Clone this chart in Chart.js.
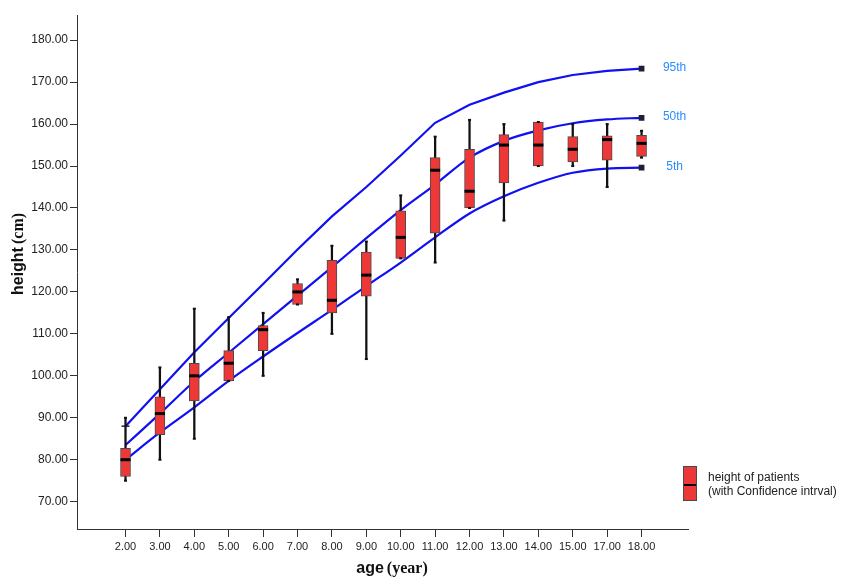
<!DOCTYPE html>
<html>
<head>
<meta charset="utf-8">
<script src="https://cdn.jsdelivr.net/npm/chart.js@4"></script>
<style>
  html, body { margin: 0; padding: 0; background: #fff; }
  #wrap { position: relative; width: 844px; height: 579px; }
</style>
</head>
<body>
<div id="wrap"><canvas id="chart"></canvas></div>
<script>
  const ages = ['2.00', '3.00', '4.00', '5.00', '6.00', '7.00', '8.00', '9.00', '10.00',
    '11.00', '12.00', '13.00', '14.00', '15.00', '17.00', '18.00'];

  // box plot of patients' height per age
  const whiskerLow  = [75, 80, 85, 98.8, 100, 117, 110, 104, 128, 127, 140, 137, 150, 150, 145, 152];
  const q1          = [76, 86, 94, 98.8, 106, 117, 115, 119, 128, 134, 140, 146, 150, 151, 151.4, 152.3];
  const median      = [80, 91, 100, 103, 111, 120, 118, 124, 133, 149, 144, 155, 155, 154, 156.3, 155.4];
  const q3          = [82.7, 95, 103, 106, 112, 122, 127.5, 129.5, 139.3, 152, 154, 157.5, 160.5, 157, 157.2, 157.3];
  const whiskerHigh = [90, 102, 116, 114, 115, 123, 131, 132, 143, 157, 161, 160, 160.5, 160, 160, 158.4];

  // reference percentile curves
  const p95 = [88, 96.8, 105.6, 113.8, 121.9, 130.1, 138, 145, 152.5, 160.3, 164.6, 167.5, 170, 171.7, 172.7, 173.2];
  const p50 = [83.5, 91, 98.7, 105.5, 112.3, 119.1, 125.9, 132.8, 139.5, 145.6, 152, 156, 158.5, 160.2, 161.1, 161.5];
  const p5  = [80, 86.5, 92.5, 98.8, 104.6, 110.2, 115.7, 121.4, 127, 133, 138.7, 142.8, 146, 148.4, 149.4, 149.6];

  const curveNames = ['95th', '50th', '5th'];
  const yTicks = [70, 80, 90, 100, 110, 120, 130, 140, 150, 160, 170, 180];

  const SANS = '"Liberation Sans", Arial, sans-serif';
  const SERIF = '"Liberation Serif", "Times New Roman", serif';
  const last = ages.length - 1;

  function curve(label, values, startStyle, smooth) {
    return {
      type: 'line',
      label: label,
      data: values.map((v, i) => ({ x: i, y: v })),
      borderColor: '#1010f2',
      borderWidth: 2.2,
      fill: false,
      cubicInterpolationMode: smooth ? 'monotone' : 'default',
      tension: 0,
      pointStyle: ctx => (ctx.dataIndex === 0 ? startStyle : 'rect'),
      pointRadius: ctx => (ctx.dataIndex === 0 && startStyle ? 4 : (ctx.dataIndex === last ? 3 : 0)),
      pointBorderColor: '#222',
      pointBackgroundColor: '#1a1a60',
      pointBorderWidth: 1.5,
      order: 2
    };
  }

  // medians, whisker caps, curve labels, legend, axis titles
  const extras = {
    id: 'extras',
    afterDatasetsDraw(chart) {
      const { ctx, scales: { x, y } } = chart;
      ctx.save();
      ages.forEach((a, i) => {
        const px = x.getPixelForValue(i);
        ctx.fillStyle = '#111';
        [whiskerLow[i], whiskerHigh[i]].forEach(v => {
          const yy = y.getPixelForValue(v);
          ctx.fillRect(px - 1.5, yy - 1, 3, 2);
        });
        const ym = y.getPixelForValue(median[i]);
        ctx.strokeStyle = '#000';
        ctx.lineWidth = 3;
        ctx.beginPath();
        ctx.moveTo(px - 5, ym);
        ctx.lineTo(px + 5, ym);
        ctx.stroke();
      });

      ctx.fillStyle = '#2b8cff';
      ctx.font = '12px ' + SANS;
      ctx.textAlign = 'center';
      ctx.textBaseline = 'middle';
      [p95, p50, p5].forEach((arr, k) => {
        ctx.fillText(curveNames[k], x.getPixelForValue(last) + 33, y.getPixelForValue(arr[last]) - 1);
      });
      ctx.restore();
    },
    afterDraw(chart) {
      const { ctx } = chart;
      ctx.save();
      // legend
      ctx.fillStyle = '#ee3838';
      ctx.strokeStyle = '#4a4a4a';
      ctx.lineWidth = 1;
      ctx.fillRect(683.5, 466.5, 13, 34);
      ctx.strokeRect(683.5, 466.5, 13, 34);
      ctx.strokeStyle = '#000';
      ctx.lineWidth = 2;
      ctx.beginPath();
      ctx.moveTo(684, 485);
      ctx.lineTo(696, 485);
      ctx.stroke();
      ctx.fillStyle = '#222';
      ctx.font = '12px ' + SANS;
      ctx.textAlign = 'left';
      ctx.textBaseline = 'middle';
      ctx.fillText('height of patients', 708, 478);
      ctx.fillText('(with Confidence intrval)', 708, 492);

      // axis titles: bold sans word + serif unit
      function title(word, unit, cx, cy, rot) {
        ctx.save();
        ctx.translate(cx, cy);
        ctx.rotate(rot);
        const f1 = 'bold 16px ' + SANS, f2 = 'bold 16px ' + SERIF;
        ctx.font = f1; const w1 = ctx.measureText(word).width;
        ctx.font = f2; const w2 = ctx.measureText(unit).width;
        const gap = 3, start = -(w1 + gap + w2) / 2;
        ctx.fillStyle = '#111';
        ctx.textBaseline = 'middle';
        ctx.textAlign = 'left';
        ctx.font = f1; ctx.fillText(word, start, 0);
        ctx.font = f2; ctx.fillText(unit, start + w1 + gap, 0);
        ctx.restore();
      }
      title('height', '(cm)', 19, 254, -Math.PI / 2);
      title('age', '(year)', 392, 569, 0);
      ctx.restore();
    }
  };

  new Chart(document.getElementById('chart'), {
    type: 'bar',
    data: {
      datasets: [
        {
          type: 'bar',
          label: 'box',
          data: ages.map((a, i) => ({ x: i, y: [q1[i], q3[i]] })),
          backgroundColor: '#ee3838',
          borderColor: '#4a4a4a',
          borderWidth: 1,
          borderSkipped: false,
          barThickness: 10,
          grouped: false,
          order: 0
        },
        {
          type: 'bar',
          label: 'whisker',
          data: ages.map((a, i) => ({ x: i, y: [whiskerLow[i], whiskerHigh[i]] })),
          backgroundColor: '#111',
          borderWidth: 0,
          barThickness: 1.6,
          grouped: false,
          order: 1
        },
        curve('95th', p95, 'line', false),
        curve('50th', p50, false, true),
        curve('5th', p5, false, true)
      ]
    },
    options: {
      responsive: true,
      maintainAspectRatio: false,
      animation: false,
      layout: { padding: { top: 15, right: 156, left: 0, bottom: 0 } },
      plugins: { legend: { display: false }, tooltip: { enabled: false } },
      scales: {
        x: {
          type: 'linear',
          offset: false,
          min: -1.41,
          max: 16.35,
          afterBuildTicks: s => { s.ticks = ages.map((a, i) => ({ value: i })); },
          afterFit: s => { s.height = 50; },
          ticks: {
            callback: v => ages[v],
            autoSkip: false,
            maxRotation: 0,
            color: '#222',
            padding: 3,
            font: { family: SANS, size: 11 }
          },
          grid: { offset: false, drawOnChartArea: false, tickLength: 8, tickColor: '#333' },
          border: { color: '#333' }
        },
        y: {
          min: 63.49,
          max: 186,
          afterBuildTicks: s => { s.ticks = yTicks.map(v => ({ value: v })); },
          afterFit: s => { s.width = 77; },
          ticks: {
            callback: v => v.toFixed(2),
            color: '#222',
            padding: 2,
            font: { family: SANS, size: 12 }
          },
          grid: { drawOnChartArea: false, tickLength: 7, tickColor: '#333' },
          border: { color: '#333' }
        }
      }
    },
    plugins: [extras]
  });
</script>
</body>
</html>
